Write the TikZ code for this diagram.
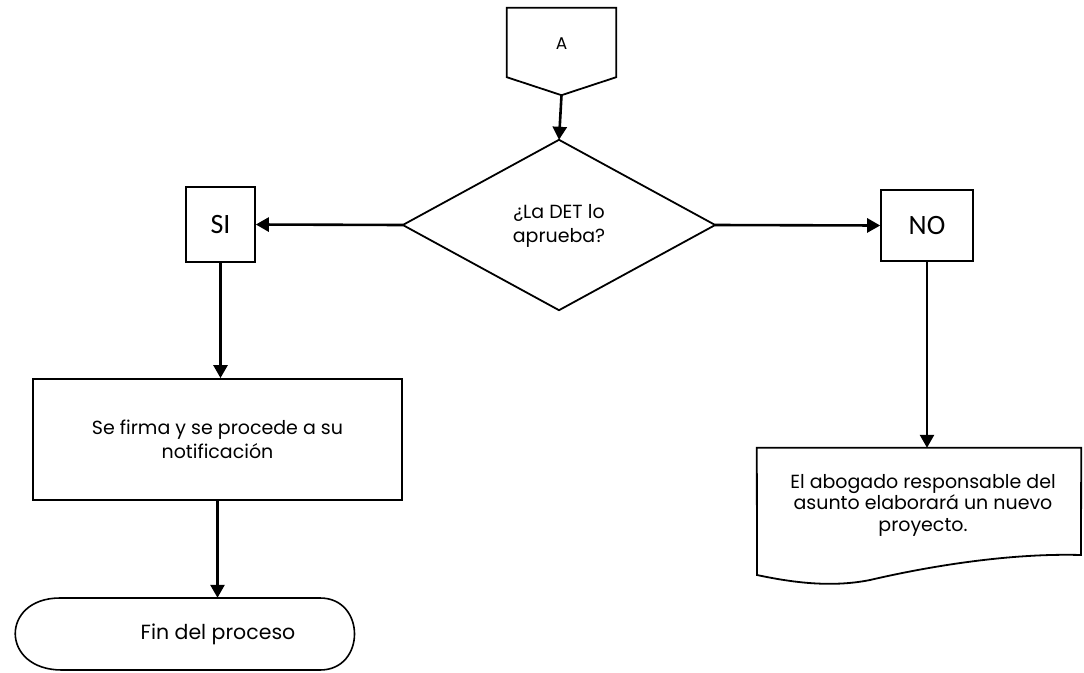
\documentclass[tikz,border=0pt]{standalone}
\usepackage{fontspec}
\setmainfont{Poppins}
\newfontfamily\labelfont{Carlito}
\usetikzlibrary{arrows.meta,calc}
\begin{document}
\begin{tikzpicture}[x=1pt,y=-1pt,
  every node/.style={inner sep=0pt, align=center, font=\fontsize{19}{24}\selectfont},
  outline/.style={line width=1.8pt, line join=miter},
  flow/.style={line width=2.6pt, -{Triangle[length=13pt,width=14pt]}},
  answer/.style={draw, line width=1.6pt, font=\labelfont\fontsize{28}{30}\selectfont}]
\useasboundingbox (0,0) rectangle (1084,672);
\fill[white] (0,0) rectangle (1084,672);

% off-page connector
\node (a) [minimum width=109pt, minimum height=87pt] at (561.5,51.5) {};
\node [font=\fontsize{17}{20}\selectfont] at (561.5,44) {A};
\draw[outline] (a.north west) -- (a.north east) -- ([yshift=18pt]a.south east)
  -- (a.south) -- ([yshift=18pt]a.south west) -- cycle;

% decision
\node (q) [minimum width=312pt, minimum height=170pt] at (559,225) {};
\node at (559,226) {¿La DET lo\\aprueba?};
\draw[outline] (q.north) -- (q.east) -- (q.south) -- (q.west) -- cycle;

% answers
\node (si) [answer, minimum width=69pt, minimum height=75pt] at (220.5,224.5) {SI};
\node (no) [answer, minimum width=92pt, minimum height=71pt] at (927,225.5) {NO};

% process
\node (p) [draw, line width=1.8pt, minimum width=369pt, minimum height=121pt] at (217.5,439.5) {Se firma y se procede a su\\notificación};

% terminator
\node (t) [minimum width=345pt, minimum height=72pt, font=\fontsize{20.5}{24}\selectfont] at (218,634) {Fin del proceso};
\draw[outline, line width=1.6pt] (60,598) -- (320,598)
  .. controls (366,598) and (366,670) .. (320,670) -- (62,670)
  .. controls (0,670) and (0,598) .. (60,598);

% document
\node (d) [minimum width=324pt, minimum height=127pt] at (919,511.5) {};
\node [font=\fontsize{19}{21.5}\selectfont] at (923,505) {El abogado responsable del\\asunto elaborará un nuevo\\proyecto.};
\draw[outline] (d.north west) -- (d.north east) -- (1081,555)
  .. controls (1010,553) and (930,566) .. (870,580)
  .. controls (830,588) and (790,582) .. (757,575) -- cycle;

% connectors
\draw[flow] (a.south) -- (q.north);
\draw[flow] (q.west) -- (si.east);
\draw[flow] (q.east) -- (no.west);
\draw[flow] (si.south) -- (si.south |- p.north);
\draw[flow] (p.south) -- (p.south |- t.north);
\draw[flow] (no.south) -- (no.south |- d.north);
\end{tikzpicture}
\end{document}
